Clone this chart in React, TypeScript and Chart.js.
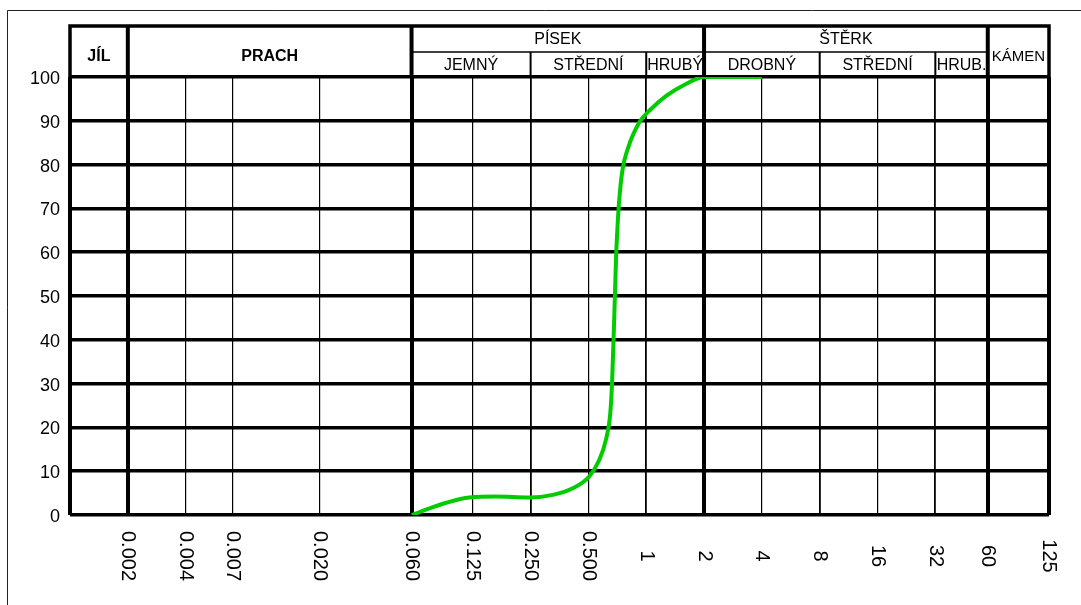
import React, { useEffect, useRef } from "react";
import { Chart, registerables } from "chart.js";

Chart.register(...registerables);

// Grain size (mm) on the x axis, passing percentage on the y axis
const xTickValues = [0.001, 0.002, 0.004, 0.007, 0.02, 0.06, 0.125, 0.25, 0.5, 1, 2, 4, 8, 16, 32, 60, 125];
const xTickLabels = ["", "0.002", "0.004", "0.007", "0.020", "0.060", "0.125", "0.250", "0.500", "1", "2", "4", "8", "16", "32", "60", "125"];
const thickX = [0.001, 0.002, 0.06, 2, 60, 125];
const mediumX = [8, 32, 0.25, 1];

const grainSizes = [
  0.0602, 0.0744, 0.0909, 0.12, 0.165, 0.246, 0.326, 0.414, 0.505, 0.57, 0.617, 0.65, 0.665, 0.686,
  0.696, 0.709, 0.724, 0.753, 0.8, 0.919, 1.06, 1.27, 1.61, 2, 4,
];
const passing = [
  0, 1.5, 2.8, 4.0, 4.2, 4.0, 4.6, 6.1, 8.8, 12.6, 17.2, 23.3, 30.9, 49.2,
  58.4, 66.0, 72.1, 78.9, 83.5, 89.6, 92.7, 95.7, 98.4, 100, 100,
];

// Header: main groups [from, to, label, row] ; row 0 = full height, 1 = upper half
const groupBounds = [
  [0.001, 0.002, "JÍL", 0],
  [0.002, 0.06, "PRACH", 0],
  [0.06, 2, "PÍSEK", 1],
  [2, 60, "ŠTĚRK", 1],
  [60, 125, "KÁMEN", 0],
];
const subBounds = [
  [0.06, 0.25, "JEMNÝ"],
  [0.25, 1, "STŘEDNÍ"],
  [1, 2, "HRUBÝ"],
  [2, 8, "DROBNÝ"],
  [8, 32, "STŘEDNÍ"],
  [32, 60, "HRUB."],
];

const headerPlugin = {
  id: "headerPlugin",
  beforeDraw(chart: any) {
    const ctx = chart.ctx;
    ctx.save();
    ctx.strokeStyle = "#222";
    ctx.lineWidth = 1;
    ctx.beginPath();
    ctx.moveTo(7.5, 605);
    ctx.lineTo(7.5, 10.5);
    ctx.lineTo(1081, 10.5);
    ctx.stroke();
    ctx.restore();
  },
  afterDraw(chart: any) {
    const ctx = chart.ctx;
    const xs = chart.scales.x;
    const area = chart.chartArea;
    const top = area.top - 51;
    const mid = area.top - 25;
    const bottom = area.top;
    ctx.save();
    ctx.strokeStyle = "#000";
    ctx.fillStyle = "#000";
    // outer header frame
    ctx.lineWidth = 3.5;
    ctx.beginPath();
    ctx.moveTo(area.left, bottom);
    ctx.lineTo(area.left, top);
    ctx.lineTo(area.right, top);
    ctx.lineTo(area.right, bottom);
    ctx.stroke();
    // group verticals
    ctx.lineWidth = 4;
    [0.002, 0.06, 2, 60].forEach((v) => {
      const px = xs.getPixelForValue(v);
      ctx.beginPath();
      ctx.moveTo(px, top);
      ctx.lineTo(px, bottom);
      ctx.stroke();
    });
    // middle line
    ctx.lineWidth = 1.5;
    ctx.beginPath();
    ctx.moveTo(xs.getPixelForValue(0.06), mid);
    ctx.lineTo(xs.getPixelForValue(60), mid);
    ctx.stroke();
    // sub verticals
    ctx.lineWidth = 2;
    [0.25, 1, 8, 32].forEach((v) => {
      const px = xs.getPixelForValue(v);
      ctx.beginPath();
      ctx.moveTo(px, mid);
      ctx.lineTo(px, bottom);
      ctx.stroke();
    });
    ctx.textAlign = "center";
    ctx.textBaseline = "middle";
    groupBounds.forEach(([a, b, label, row]: any) => {
      const cx = (xs.getPixelForValue(a) + xs.getPixelForValue(b)) / 2;
      const bold = label === "PRACH" || label === "JÍL";
      ctx.font = (bold ? "bold " : "") + (label === "KÁMEN" ? "15px" : "16px") + " 'Liberation Sans', Arial, sans-serif";
      const cy = row === 1 ? top + 14 : top + 31;
      ctx.fillText(label, cx, cy);
    });
    ctx.font = "16px 'Liberation Sans', Arial, sans-serif";
    subBounds.forEach(([a, b, label]: any) => {
      const cx = (xs.getPixelForValue(a) + xs.getPixelForValue(b)) / 2;
      ctx.fillText(label, cx, mid + 14);
    });
    // rotated x labels
    ctx.font = "20px 'Liberation Sans', Arial, sans-serif";
    xTickValues.forEach((v, i) => {
      const label = xTickLabels[i];
      if (!label) return;
      const px = xs.getPixelForValue(v);
      ctx.save();
      ctx.translate(px, area.bottom + 41);
      ctx.rotate(Math.PI / 2);
      ctx.textAlign = "center";
      ctx.textBaseline = "middle";
      ctx.fillText(label, 0, 0);
      ctx.restore();
    });
    ctx.restore();
  },
};

export default function App() {
  const ref = useRef<HTMLCanvasElement | null>(null);
  useEffect(() => {
    if (!ref.current) return;
    const chart = new Chart(ref.current, {
      type: "line",
      data: {
        datasets: [
          {
            data: grainSizes.map((x, i) => ({ x, y: passing[i] })),
            borderColor: "#00cc00",
            borderWidth: 4,
            pointRadius: 0,
            cubicInterpolationMode: "monotone",
            fill: false,
          },
        ],
      },
      options: {
        responsive: false,
        animation: false,
        layout: { padding: { left: 8, right: 32, top: 77, bottom: 90 } },
        plugins: { legend: { display: false }, tooltip: { enabled: false } },
        scales: {
          x: {
            type: "logarithmic",
            min: 0.001,
            max: 125,
            afterBuildTicks: (scale: any) => {
              scale.ticks = xTickValues.map((v) => ({ value: v }));
            },
            afterFit: (scale: any) => {
              scale.height = 0;
            },
            ticks: { display: false },
            border: { display: false },
            grid: {
              drawTicks: false,
              color: "#000",
              lineWidth: (c: any) => {
                const v = c.tick ? c.tick.value : 0;
                if (thickX.includes(v)) return 4;
                if (mediumX.includes(v)) return 1.8;
                return 1.2;
              },
            },
          },
          y: {
            min: 0,
            max: 100,
            afterFit: (scale: any) => {
              scale.width = 62;
            },
            ticks: {
              stepSize: 10,
              padding: 10,
              labelOffset: 2,
              color: "#000",
              font: { family: "'Liberation Sans', Arial, sans-serif", size: 18 },
            },
            border: { display: false },
            grid: { drawTicks: false, color: "#000", lineWidth: 3.5 },
          },
        },
      },
      plugins: [headerPlugin],
    } as any);
    return () => chart.destroy();
  }, []);
  return (
    <div style={{ position: "absolute", left: 0, top: 0, width: 1081, height: 605, background: "#fff" }}>
      <canvas ref={ref} width={1081} height={605} style={{ display: "block" }} />
    </div>
  );
}
